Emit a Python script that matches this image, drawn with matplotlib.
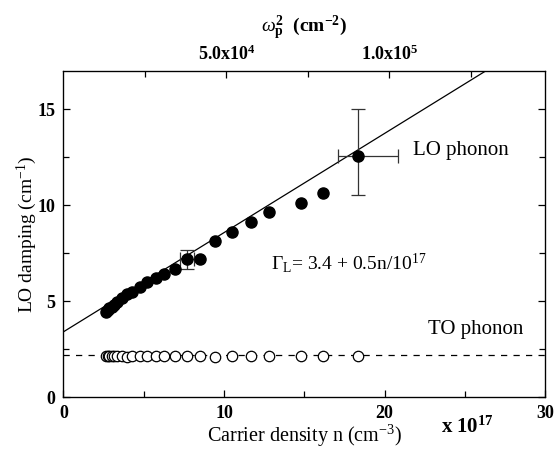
import matplotlib
matplotlib.use("Agg")
import matplotlib.pyplot as plt
import numpy as np

plt.rcParams['font.family'] = ['Liberation Serif', 'DejaVu Serif']
plt.rcParams['mathtext.fontset'] = 'custom'
plt.rcParams['mathtext.rm'] = 'Liberation Serif'
plt.rcParams['mathtext.it'] = 'Liberation Serif:italic'
plt.rcParams['mathtext.bf'] = 'Liberation Serif:bold'

# Data (n in units of 1e17 cm^-3)
n_vals = [2.65, 2.75, 2.85, 3.0, 3.15, 3.31, 3.63, 3.94, 4.25, 4.77, 5.22, 5.74,
          6.28, 6.95, 7.68, 8.50, 9.44, 10.52, 11.68, 12.82, 14.80, 16.17, 18.33]
lo_damping = [4.45, 4.55, 4.62, 4.70, 4.82, 4.95, 5.16, 5.36, 5.48, 5.74, 5.97, 6.23,
              6.40, 6.67, 7.17, 7.22, 8.14, 8.62, 9.12, 9.65, 10.13, 10.66, 12.55]
to_damping = [2.12, 2.12, 2.12, 2.12, 2.12, 2.12, 2.12, 2.10, 2.12, 2.12, 2.13, 2.15,
              2.15, 2.13, 2.12, 2.12, 2.10, 2.12, 2.12, 2.12, 2.14, 2.12, 2.14]

# error bars
err_n = [7.68, 18.33]
err_y = [7.17, 12.55]
err_xm = [0.42, 1.2]
err_xp = [0.42, 2.5]
err_ym = [0.52, 2.03]
err_yp = [0.52, 2.47]

fit_intercept = 3.4
fit_slope = 0.517
to_level = 2.2
omega_per_n = 4926.0  # wp^2 (cm^-2) per 1e17 cm^-3

fig = plt.figure(figsize=(5.55, 4.49), dpi=100)
ax = fig.add_axes([0.1144, 0.1158, 0.8676, 0.7262])

xfit = np.array([0, 30])
ax.plot(xfit, fit_intercept + fit_slope * xfit, color='black', lw=0.9, zorder=2)
ax.axhline(to_level, color='black', lw=0.9, ls=(0, (5, 5)), zorder=1)

ax.plot(n_vals, lo_damping, 'o', color='black', ms=8, zorder=3)
ax.plot(n_vals, to_damping, 'o', mfc='white', mec='black', mew=0.9, ms=7.5, zorder=3)

ax.errorbar(err_n, err_y, xerr=[err_xm, err_xp], yerr=[err_ym, err_yp],
            fmt='none', ecolor='#333333', elinewidth=0.9, capsize=5, capthick=0.9, zorder=2)

ax.set_xlim(0, 30)
ax.set_ylim(0, 17)
ax.set_xticks([0, 10, 20, 30])
ax.set_xticks([5, 15, 25], minor=True)
ax.set_yticks([0, 5, 10, 15])
ax.set_yticks([2.5, 7.5, 12.5], minor=True)
ax.tick_params(which='both', direction='in', top=False, right=True, labelsize=13, width=0.9)
ax.tick_params(which='major', length=5)
ax.tick_params(which='minor', length=4)
ax.tick_params(axis='x', pad=6)
ax.tick_params(axis='y', pad=6)
for lab in ax.get_xticklabels() + ax.get_yticklabels():
    lab.set_fontweight('bold')
for s in ax.spines.values():
    s.set_linewidth(0.9)

ax.set_xlabel(r'Carrier density n (cm$^{\mathrm{-3}}$)', fontsize=14.5, labelpad=0)
ax.set_ylabel(r'LO damping (cm$^{\mathrm{-1}}$)', fontsize=14, labelpad=-1)

ax2 = ax.twiny()
ax2.set_xlim(0, 30 * omega_per_n)
ax2.set_xticks([5e4, 1e5])
ax2.set_xticklabels([r'$\mathbf{5.0x10^{4}}$', r'$\mathbf{1.0x10^{5}}$'])
ax2.set_xticks([2.5e4, 7.5e4, 1.25e5], minor=True)
ax2.tick_params(which='both', direction='in', labelsize=13, width=0.9, pad=5)
ax2.tick_params(which='major', length=5)
ax2.tick_params(which='minor', length=4)
ax2.set_xlabel(r'$\omega_\mathbf{p}^\mathbf{2}$  $\mathbf{(cm^{-2})}$', fontsize=14, labelpad=9)

fig.text(0.795, 0.035, r'$\mathbf{x\ 10^{17}}$', fontsize=15, ha='left', va='baseline')
ax.text(21.8, 12.85, 'LO phonon', fontsize=15, va='center')
ax.text(22.7, 3.5, 'TO phonon', fontsize=15, va='center')
ax.text(12.9, 7.0, r'$\Gamma_{\mathrm{L}}$= 3.4 + 0.5n/10$^{17}$', fontsize=14, va='center')

fig.savefig('out.png', dpi=100)
